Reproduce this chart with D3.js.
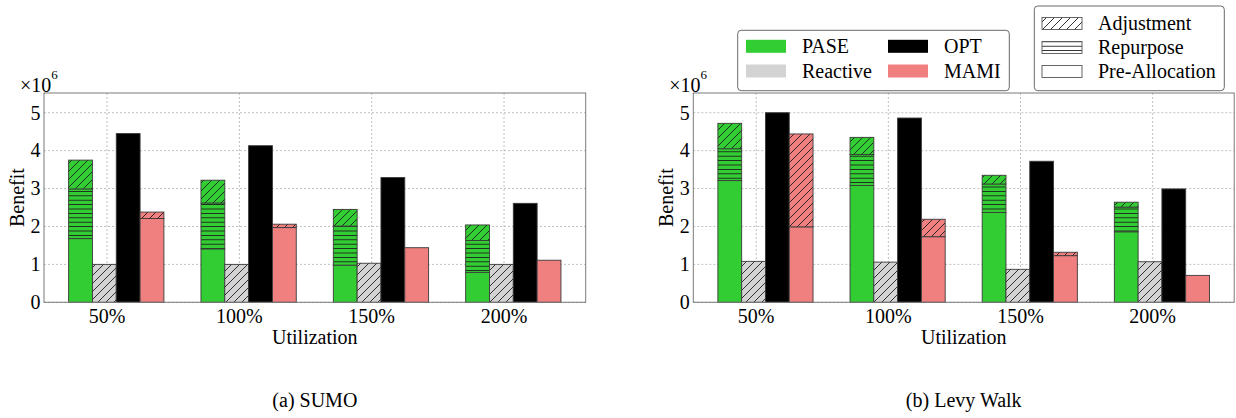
<!DOCTYPE html>
<html>
<head>
<meta charset="utf-8">
<script src="https://cdn.jsdelivr.net/npm/d3@7"></script>
<style>
  html, body { margin: 0; padding: 0; background: #fff; }
  svg text { font-family: "Liberation Serif", "DejaVu Serif", serif; fill: #000; }
</style>
</head>
<body>
<svg id="chart" width="1236" height="418"></svg>
<script>
// 数据
const categories = ['50%', '100%', '150%', '200%'];
const yTicks = [0, 1, 2, 3, 4, 5];

// (a) SUMO
const sumoPasePre = [1.68, 1.41, 0.98, 0.79];
const sumoPaseRep = [1.31, 1.21, 1.03, 0.84];
const sumoPaseAdj = [0.76, 0.60, 0.44, 0.41];
const sumoReactive = [1.00, 1.00, 1.03, 1.00];
const sumoOpt = [4.45, 4.13, 3.29, 2.61];
const sumoMamiPre = [2.21, 1.97, 1.44, 1.11];
const sumoMamiAdj = [0.17, 0.09, 0.00, 0.00];

// (b) Levy Walk
const levyPasePre = [3.21, 3.08, 2.37, 1.86];
const levyPaseRep = [0.84, 0.82, 0.75, 0.65];
const levyPaseAdj = [0.67, 0.45, 0.23, 0.13];
const levyReactive = [1.08, 1.06, 0.87, 1.07];
const levyOpt = [5.00, 4.86, 3.72, 2.99];
const levyMamiPre = [1.99, 1.73, 1.23, 0.71];
const levyMamiAdj = [2.45, 0.46, 0.09, 0.00];

const COLORS = { PASE: '#32cd32', Reactive: '#d3d3d3', OPT: '#000000', MAMI: '#f08080' };
const EDGE = '#3a3a3a';
const HATCH = '#1e1e1e';

const svg = d3.select('#chart');

// 填充图案
const defs = svg.append('defs');
defs.append('pattern')
    .attr('id', 'diag')
    .attr('patternUnits', 'userSpaceOnUse')
    .attr('width', 8).attr('height', 8)
    .append('path')
    .attr('d', 'M-2,2 L2,-2 M0,8 L8,0 M6,10 L10,6')
    .attr('stroke', HATCH).attr('stroke-width', 0.9);
defs.append('pattern')
    .attr('id', 'horiz')
    .attr('patternUnits', 'userSpaceOnUse')
    .attr('width', 8).attr('height', 4.4)
    .append('line')
    .attr('x1', 0).attr('x2', 8).attr('y1', 2.2).attr('y2', 2.2)
    .attr('stroke', HATCH).attr('stroke-width', 0.9);

const BAR_W = 0.18;
const OFFSETS = [-0.2, -0.02, 0.16, 0.34];

function drawPanel(left, right, title, d) {
    const top = 93, bottom = 302.3;
    const x = d3.scaleLinear().domain([-0.476, 3.617]).range([left, right]);
    const y = d3.scaleLinear().domain([0, 5.52]).range([bottom, top]);
    const g = svg.append('g');

    // 网格
    g.append('g').selectAll('line').data(yTicks).join('line')
        .attr('x1', left).attr('x2', right)
        .attr('y1', v => y(v)).attr('y2', v => y(v))
        .attr('stroke', '#b0b0b0').attr('stroke-width', 0.8).attr('stroke-dasharray', '2,2');
    g.append('g').selectAll('line').data(categories).join('line')
        .attr('x1', (c, i) => x(i)).attr('x2', (c, i) => x(i))
        .attr('y1', top).attr('y2', bottom)
        .attr('stroke', '#b0b0b0').attr('stroke-width', 0.8).attr('stroke-dasharray', '2,2');

    const bw = x(BAR_W) - x(0);

    function seg(i, k, y0, y1, color, pattern) {
        if (y1 - y0 <= 0) return;
        const bx = x(i + OFFSETS[k]) - bw / 2;
        const ry = y(y1), rh = y(y0) - y(y1);
        g.append('rect').attr('x', bx).attr('y', ry).attr('width', bw).attr('height', rh)
            .attr('fill', color);
        if (pattern) {
            g.append('rect').attr('x', bx).attr('y', ry).attr('width', bw).attr('height', rh)
                .attr('fill', `url(#${pattern})`);
        }
        g.append('rect').attr('x', bx).attr('y', ry).attr('width', bw).attr('height', rh)
            .attr('fill', 'none').attr('stroke', EDGE).attr('stroke-width', 0.9);
    }

    categories.forEach((c, i) => {
        // PASE: 预分配 + 重用 + 调整
        const p1 = d.pasePre[i], p2 = p1 + d.paseRep[i], p3 = p2 + d.paseAdj[i];
        seg(i, 0, 0, p1, COLORS.PASE, null);
        seg(i, 0, p1, p2, COLORS.PASE, 'horiz');
        seg(i, 0, p2, p3, COLORS.PASE, 'diag');
        // Reactive
        seg(i, 1, 0, d.reactive[i], COLORS.Reactive, 'diag');
        // OPT
        seg(i, 2, 0, d.opt[i], COLORS.OPT, null);
        // MAMI
        const m1 = d.mamiPre[i], m2 = m1 + d.mamiAdj[i];
        seg(i, 3, 0, m1, COLORS.MAMI, null);
        seg(i, 3, m1, m2, COLORS.MAMI, 'diag');
    });

    // 边框
    g.append('rect').attr('x', left).attr('y', top)
        .attr('width', right - left).attr('height', bottom - top)
        .attr('fill', 'none').attr('stroke', '#7a7a7a').attr('stroke-width', 1);

    // 刻度标签
    g.append('g').selectAll('text').data(yTicks).join('text')
        .attr('x', left - 3.5).attr('y', v => y(v)).attr('dy', '0.34em')
        .attr('text-anchor', 'end').attr('font-size', 20)
        .text(v => v);
    g.append('g').selectAll('text').data(categories).join('text')
        .attr('x', (c, i) => x(i)).attr('y', 323)
        .attr('text-anchor', 'middle').attr('font-size', 20)
        .text(c => c);

    // 轴标题
    g.append('text').attr('x', (left + right) / 2).attr('y', 344)
        .attr('text-anchor', 'middle').attr('font-size', 20).text('Utilization');
    g.append('text')
        .attr('transform', `translate(${left - 27},${(top + bottom) / 2}) rotate(-90)`)
        .attr('dy', '0.34em')
        .attr('text-anchor', 'middle').attr('font-size', 20).text('Benefit');

    // ×10^6
    const mult = g.append('text').attr('x', left - 24).attr('y', 92).attr('font-size', 20);
    mult.append('tspan').text('×10');
    mult.append('tspan').attr('font-size', 13).attr('dy', -13).text('6');

    // 子图标题
    g.append('text').attr('x', (left + right) / 2).attr('y', 407)
        .attr('text-anchor', 'middle').attr('font-size', 20).text(title);
}

drawPanel(44, 585.7, '(a) SUMO', {
    pasePre: sumoPasePre, paseRep: sumoPaseRep, paseAdj: sumoPaseAdj,
    reactive: sumoReactive, opt: sumoOpt, mamiPre: sumoMamiPre, mamiAdj: sumoMamiAdj
});
drawPanel(693.3, 1234.2, '(b) Levy Walk', {
    pasePre: levyPasePre, paseRep: levyPaseRep, paseAdj: levyPaseAdj,
    reactive: levyReactive, opt: levyOpt, mamiPre: levyMamiPre, mamiAdj: levyMamiAdj
});

// 图例 1：方法
const legendMethods = [
    { name: 'PASE', color: COLORS.PASE, x: 746, y: 46.3 },
    { name: 'Reactive', color: COLORS.Reactive, x: 746, y: 71 },
    { name: 'OPT', color: COLORS.OPT, x: 888, y: 46.3 },
    { name: 'MAMI', color: COLORS.MAMI, x: 888, y: 71 }
];
const lg1 = svg.append('g');
lg1.append('rect').attr('x', 737.7).attr('y', 30.3).attr('width', 271.6).attr('height', 60.4)
    .attr('rx', 3.5).attr('fill', '#fff').attr('stroke', '#6a6a6a').attr('stroke-width', 1);
legendMethods.forEach(m => {
    lg1.append('rect').attr('x', m.x).attr('y', m.y - 6.5).attr('width', 40).attr('height', 13)
        .attr('fill', m.color);
    lg1.append('text').attr('x', m.x + 56).attr('y', m.y).attr('dy', '0.34em')
        .attr('font-size', 20).text(m.name);
});

// 图例 2：组成
const legendParts = [
    { name: 'Adjustment', pattern: 'diag', y: 23.5 },
    { name: 'Repurpose', pattern: 'horiz', y: 47.5 },
    { name: 'Pre-Allocation', pattern: null, y: 71.5 }
];
const lg2 = svg.append('g');
lg2.append('rect').attr('x', 1034.3).attr('y', 6).attr('width', 190).attr('height', 84.7)
    .attr('rx', 3.5).attr('fill', '#fff').attr('stroke', '#6a6a6a').attr('stroke-width', 1);
legendParts.forEach(p => {
    const r = lg2.append('rect').attr('x', 1042).attr('y', p.y - 6).attr('width', 40).attr('height', 12);
    r.attr('fill', p.pattern ? `url(#${p.pattern})` : '#fff')
        .attr('stroke', '#555').attr('stroke-width', 0.9);
    lg2.append('text').attr('x', 1098).attr('y', p.y).attr('dy', '0.34em')
        .attr('font-size', 20).text(p.name);
});
</script>
</body>
</html>
